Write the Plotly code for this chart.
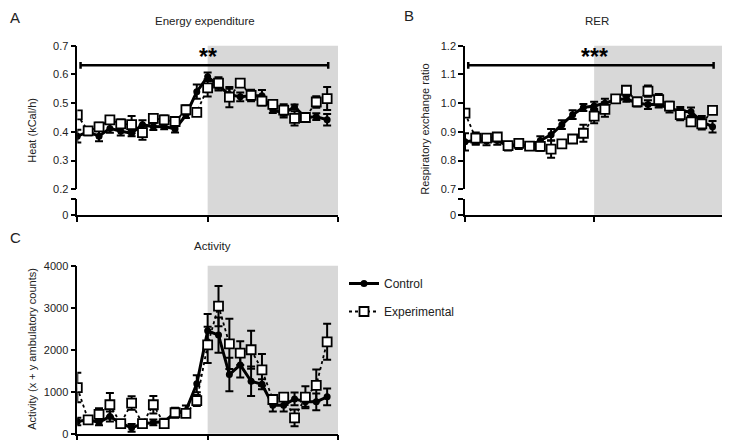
import plotly.graph_objects as go

# ---------------- data ----------------
time_idx = list(range(24))

heat_control = [0.385, 0.400, 0.385, 0.412, 0.402, 0.395, 0.425, 0.418, 0.419, 0.410, 0.458, 0.540,
                0.592, 0.562, 0.530, 0.522, 0.526, 0.526, 0.476, 0.465, 0.487, 0.450, 0.453, 0.442]
heat_control_err = [0.022, 0.012, 0.018, 0.015, 0.015, 0.010, 0.015, 0.012, 0.010, 0.012, 0.010, 0.025,
                    0.015, 0.018, 0.020, 0.015, 0.015, 0.020, 0.010, 0.015, 0.008, 0.012, 0.012, 0.020]
heat_exp = [0.459, 0.403, 0.417, 0.442, 0.428, 0.425, 0.397, 0.447, 0.442, 0.436, 0.477, 0.468,
            0.553, 0.570, 0.521, 0.570, 0.527, 0.507, 0.496, 0.476, 0.447, 0.450, 0.504, 0.516]
heat_exp_err = [0.010, 0.012, 0.015, 0.008, 0.015, 0.030, 0.025, 0.015, 0.015, 0.008, 0.015, 0.010,
                0.030, 0.020, 0.035, 0.008, 0.020, 0.015, 0.010, 0.020, 0.025, 0.010, 0.020, 0.040]

rer_control = [0.865, 0.870, 0.868, 0.870, 0.850, 0.855, 0.850, 0.870, 0.890, 0.925, 0.960, 0.985,
               0.990, 1.000, 1.012, 1.015, 1.000, 0.995, 0.995, 0.982, 0.972, 0.970, 0.935, 0.918]
rer_control_err = [0.030, 0.015, 0.015, 0.015, 0.015, 0.015, 0.012, 0.015, 0.020, 0.015, 0.015, 0.012,
                   0.015, 0.015, 0.010, 0.010, 0.012, 0.015, 0.010, 0.015, 0.015, 0.015, 0.020, 0.020]
rer_exp = [0.965, 0.878, 0.878, 0.882, 0.852, 0.860, 0.850, 0.849, 0.840, 0.858, 0.875, 0.895,
           0.955, 0.978, 1.015, 1.045, 1.005, 1.042, 1.012, 0.990, 0.960, 0.935, 0.928, 0.975]
rer_exp_err = [0.010, 0.020, 0.012, 0.010, 0.010, 0.012, 0.012, 0.015, 0.030, 0.012, 0.008, 0.030,
               0.025, 0.025, 0.008, 0.010, 0.010, 0.020, 0.020, 0.015, 0.020, 0.015, 0.020, 0.012]

act_control = [290, 330, 270, 410, 250, 140, 240, 270, 290, 500, 550, 1190,
               2450, 2350, 1410, 1640, 1250, 1180, 680, 680, 830, 760, 760, 880]
act_control_err = [90, 60, 70, 120, 80, 90, 60, 70, 70, 90, 120, 200,
                   400, 420, 400, 300, 350, 120, 150, 150, 150, 120, 200, 200]
act_exp = [1100, 330, 460, 690, 240, 730, 240, 690, 240, 500, 485, 790,
           2115, 3040, 2140, 1920, 2000, 1520, 815, 870, 380, 870, 1150, 2190]
act_exp_err = [350, 60, 150, 280, 70, 160, 70, 210, 60, 120, 60, 130,
               430, 480, 600, 280, 450, 380, 80, 60, 200, 260, 380, 430]

x_ticks = [0, 12, 24]
dark_start, dark_end = 12, 24
heat_ticks = [0.2, 0.3, 0.4, 0.5, 0.6, 0.7]
rer_ticks = [0.7, 0.8, 0.9, 1.0, 1.1, 1.2]
act_ticks = [0, 1000, 2000, 3000, 4000]

sig_heat = dict(x0=0.3, x1=23.1, y=0.632, label="**")
sig_rer = dict(x0=0.3, x1=23.1, y=1.132, label="***")

# ---------------- layout helpers ----------------
W, H = 730, 448
OFF = 8  # page body margin offset
def fx(px):
    return (px - OFF) / W
def fy(py):
    return 1 - (py - OFF) / H

FONT = "Liberation Sans"
TXT = "#222222"
SHADE = "#d8d8d8"

fig = go.Figure()

def add_pair(xa, ya, ctrl, ctrl_err, exp, exp_err, show):
    fig.add_trace(go.Scatter(
        x=time_idx, y=ctrl, xaxis=xa, yaxis=ya, mode="lines+markers", name="Control",
        line=dict(color="black", width=3),
        marker=dict(symbol="circle", size=7, color="black"),
        error_y=dict(type="data", array=ctrl_err, color="black", thickness=2, width=4),
        showlegend=show, legendgroup="c"))
    fig.add_trace(go.Scatter(
        x=time_idx, y=exp, xaxis=xa, yaxis=ya, mode="lines+markers", name="Experimental",
        line=dict(color="black", width=1.8, dash="dot"),
        marker=dict(symbol="square", size=9, color="white", line=dict(color="black", width=1.8)),
        error_y=dict(type="data", array=exp_err, color="black", thickness=2, width=4),
        showlegend=show, legendgroup="e"))

add_pair("x", "y", heat_control, heat_control_err, heat_exp, heat_exp_err, False)
add_pair("x2", "y3", rer_control, rer_control_err, rer_exp, rer_exp_err, False)
add_pair("x3", "y5", act_control, act_control_err, act_exp, act_exp_err, True)
# empty traces so the lower (broken) axis segments exist
fig.add_trace(go.Scatter(x=[], y=[], xaxis="x", yaxis="y2", showlegend=False))
fig.add_trace(go.Scatter(x=[], y=[], xaxis="x2", yaxis="y4", showlegend=False))

ax_common = dict(showgrid=False, zeroline=False, showline=True, linecolor="black", linewidth=1.5,
                 ticks="outside", ticklen=5, tickwidth=1.5, tickcolor="black",
                 tickfont=dict(family=FONT, size=11, color=TXT))

xa = dict(ax_common, range=[0, 24], tickvals=x_ticks, showticklabels=False)
A_x = [fx(77.3), fx(338)]
B_x = [fx(465), fx(723.3)]
upper_y = [fy(188), fy(40.7)]
lower_y = [fy(214.3), fy(198)]

fig.update_layout(
    width=W, height=H, margin=dict(l=0, r=0, t=0, b=0),
    paper_bgcolor="white", plot_bgcolor="rgba(0,0,0,0)",
    font=dict(family=FONT, color=TXT),
    xaxis=dict(xa, domain=A_x, anchor="y2"),
    xaxis2=dict(xa, domain=B_x, anchor="y4"),
    xaxis3=dict(xa, domain=A_x, anchor="y5"),
    yaxis=dict(ax_common, domain=upper_y, range=[0.2, 0.7], tickvals=heat_ticks,
               tickformat=".1f", anchor="x"),
    yaxis2=dict(ax_common, domain=lower_y, range=[0, 1], tickvals=[0, 1], ticktext=["0", ""],
                anchor="x"),
    yaxis3=dict(ax_common, domain=upper_y, range=[0.7, 1.2], tickvals=rer_ticks,
                tickformat=".1f", anchor="x2"),
    yaxis4=dict(ax_common, domain=lower_y, range=[0, 1], tickvals=[0, 1], ticktext=["0", ""],
                anchor="x2"),
    yaxis5=dict(ax_common, domain=[fy(439.3), fy(266.7)], range=[0, 4000], tickvals=act_ticks,
                anchor="x3"),
    legend=dict(x=fx(344), y=fy(270), xanchor="left", yanchor="top",
                font=dict(family=FONT, size=12, color=TXT), tracegroupgap=9,
                bgcolor="rgba(0,0,0,0)"),
)

# dark-phase shading
shapes = []
for xr, y0, y1 in [("x", fy(214.3), fy(40.7)), ("x2", fy(214.3), fy(40.7)), ("x3", fy(439.3), fy(266.7))]:
    shapes.append(dict(type="rect", xref=xr, yref="paper", x0=dark_start, x1=dark_end, y0=y0, y1=y1,
                       fillcolor=SHADE, line=dict(width=0), layer="below"))

# significance bars
for xr, yr, s, dy in [("x", "y", sig_heat, 0.012), ("x2", "y3", sig_rer, 0.012)]:
    shapes.append(dict(type="line", xref=xr, yref=yr, x0=s["x0"], x1=s["x1"], y0=s["y"], y1=s["y"],
                       line=dict(color="black", width=2.5)))
    for xe in (s["x0"], s["x1"]):
        shapes.append(dict(type="line", xref=xr, yref=yr, x0=xe, x1=xe, y0=s["y"] - dy, y1=s["y"] + dy,
                           line=dict(color="black", width=2.5)))
fig.update_layout(shapes=shapes)

ann = []
def txt(x, y, t, size=11, xanchor="center", **kw):
    ann.append(dict(x=fx(x), y=fy(y), xref="paper", yref="paper", text=t, showarrow=False,
                    xanchor=xanchor, yanchor="middle",
                    font=dict(family=FONT, size=size, color=TXT), **kw))

txt(8, 12, "A", 15, xanchor="left")
txt(409, 10, "B", 15)
txt(8, 238, "C", 15, xanchor="left")
txt(205, 15, "Energy expenditure", 11.5)
txt(597, 15, "RER", 11.5)
txt(212, 246, "Activity", 11.5)
txt(32, 127, "Heat (kCal/h)", 11, textangle=-90)
txt(425, 127, "Respiratory exchange ratio", 11, textangle=-90)
txt(32, 352, "Activity (x + y ambulatory counts)", 11, textangle=-90)

for xr, yr, s in [("x", "y", sig_heat), ("x2", "y3", sig_rer)]:
    ann.append(dict(x=12, y=s["y"], xref=xr, yref=yr, text="<b>" + s["label"] + "</b>", showarrow=False,
                    xanchor="center", yanchor="bottom", yshift=-7,
                    font=dict(family=FONT, size=23, color="black")))
fig.update_layout(annotations=ann)

fig.write_html("out.html")
